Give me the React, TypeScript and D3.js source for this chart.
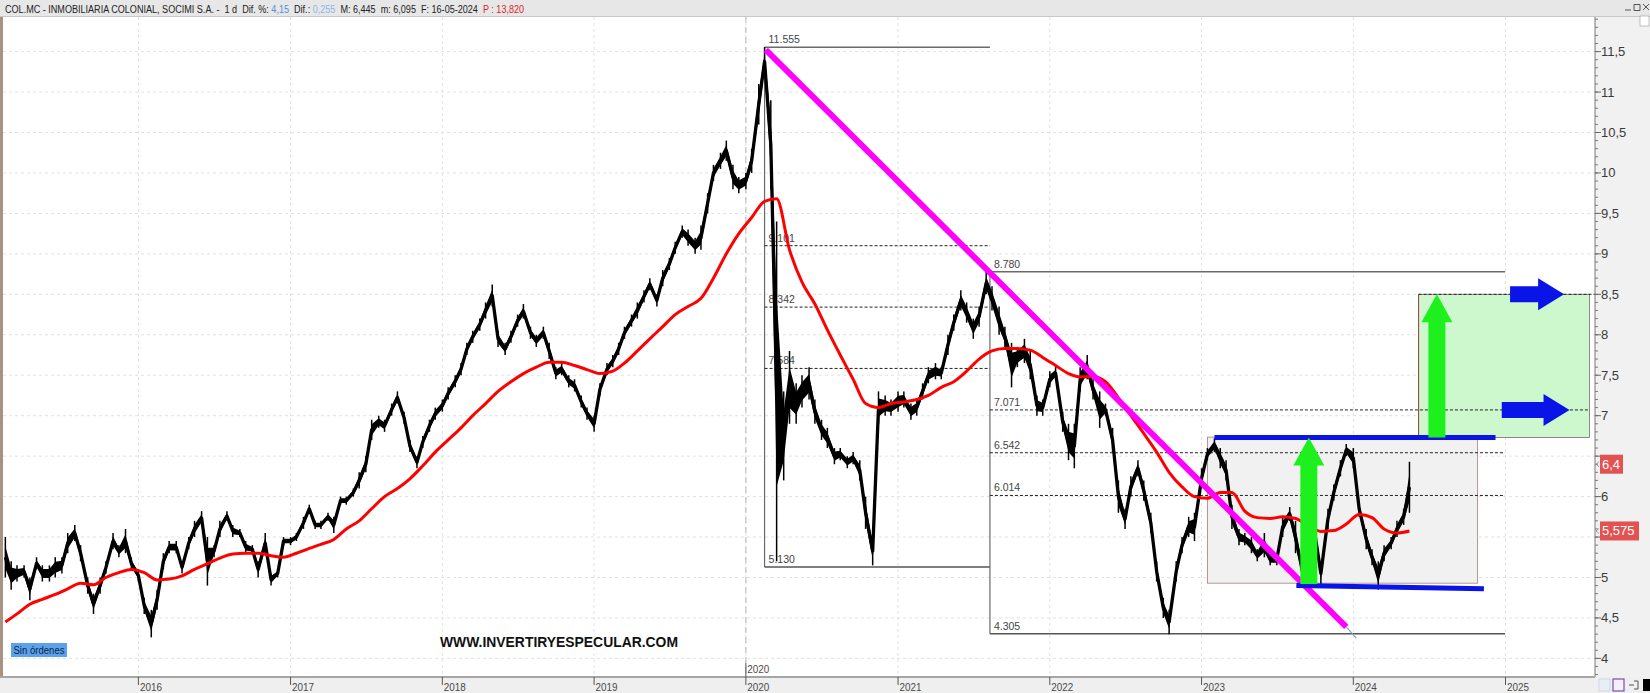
import React from "react";
import * as d3 from "d3";

const WIDTH = 1650;
const HEIGHT = 693;

// Semi-monthly price ranges (1st and 15th of each month), first point 15-Feb-2015
const priceLow: number[] = [
  5.0, 4.85, 4.95, 5.0, 4.72, 5.1, 4.95, 4.95, 5.0, 5.05, 5.3, 5.45, 5.2, 4.8, 4.55, 4.8, 5.05, 5.35, 5.25, 5.3, 5.1,
  4.95, 4.55, 4.26, 4.6, 5.1, 5.3, 5.3, 5.05, 5.35, 5.5, 5.65, 4.9, 5.25, 5.5, 5.7, 5.5, 5.5, 5.3, 5.3, 5.0, 5.3, 4.9, 5.0, 5.4,
  5.4, 5.45, 5.6, 5.8, 5.6, 5.6, 5.7, 5.55, 5.9, 5.9, 6.0, 6.1, 6.3, 6.7, 6.85, 6.8, 7.0, 7.15, 6.9, 6.55, 6.35, 6.6, 6.8, 6.95,
  7.05, 7.2, 7.35, 7.5, 7.75, 7.9, 8.05, 8.2, 8.35, 7.85, 7.75, 7.9, 8.1, 8.2, 7.95, 7.85, 7.95, 7.7, 7.45, 7.5, 7.35, 7.3, 7.1, 6.95,
  6.8, 7.25, 7.5, 7.6, 7.75, 7.95, 8.1, 8.2, 8.4, 8.55, 8.35, 8.6, 8.8, 9.0, 9.2, 9.1, 9.0, 9.05, 9.5, 9.9, 10.05, 10.15, 9.8, 9.75,
  9.8, 10.0, 10.6, 11.2, 9.8, 5.2, 6.2, 6.9, 6.9, 7.1, 7.2, 6.9, 6.7, 6.6, 6.4, 6.45, 6.35, 6.4, 6.2, 5.6, 5.15, 6.9, 7.0, 7.0,
  7.05, 7.1, 6.95, 7.0, 7.2, 7.4, 7.45, 7.45, 7.75, 8.05, 8.3, 8.15, 7.95, 8.1, 8.5, 8.3, 8.0, 7.85, 7.35, 7.6, 7.65, 7.45, 7.0,
  7.0, 7.35, 7.45, 6.8, 6.45, 6.35, 7.3, 7.45, 7.2, 6.85, 7.0, 6.55, 5.8, 5.6, 6.0, 6.25, 5.95, 5.55, 4.95, 4.5, 4.3, 4.95, 5.3,
  5.5, 5.45, 6.1, 6.45, 6.55, 6.35, 6.2, 5.6, 5.4, 5.4, 5.3, 5.2, 5.25, 5.15, 5.15, 5.5, 5.7, 5.3, 4.98, 5.1, 5.4, 4.9, 5.6, 5.95,
  6.25, 6.5, 6.35, 5.75, 5.35, 5.15, 4.85, 5.2, 5.35, 5.5, 5.65, 5.8,
];
const priceHigh: number[] = [
  5.5, 5.2, 5.15, 5.15, 5.0, 5.25, 5.15, 5.15, 5.25, 5.25, 5.55, 5.65, 5.4, 5.0, 4.8, 5.0, 5.2, 5.55, 5.4, 5.6, 5.25,
  5.1, 4.75, 4.6, 4.85, 5.3, 5.45, 5.45, 5.2, 5.5, 5.7, 5.82, 5.5, 5.4, 5.7, 5.82, 5.65, 5.6, 5.45, 5.4, 5.2, 5.55, 5.05, 5.1, 5.5,
  5.5, 5.55, 5.75, 5.9, 5.7, 5.7, 5.8, 5.75, 6.0, 6.0, 6.1, 6.3, 6.5, 6.95, 7.0, 6.95, 7.15, 7.3, 7.05, 6.7, 6.5, 6.75, 6.95, 7.1,
  7.2, 7.35, 7.5, 7.65, 7.9, 8.05, 8.2, 8.4, 8.62, 8.05, 7.9, 8.05, 8.25, 8.38, 8.1, 8.0, 8.1, 7.9, 7.6, 7.65, 7.5, 7.45, 7.25, 7.1,
  7.0, 7.4, 7.65, 7.75, 7.9, 8.1, 8.25, 8.4, 8.55, 8.7, 8.5, 8.8, 8.95, 9.15, 9.35, 9.3, 9.2, 9.35, 9.75, 10.1, 10.25, 10.4, 10.1, 9.95,
  10.0, 10.3, 11.1, 11.555, 10.9, 9.4, 7.3, 7.8, 7.4, 7.5, 7.6, 7.2, 6.95, 6.85, 6.6, 6.6, 6.5, 6.55, 6.45, 6.0, 5.5, 7.3, 7.25, 7.2,
  7.3, 7.3, 7.15, 7.2, 7.4, 7.6, 7.65, 7.6, 8.0, 8.25, 8.55, 8.4, 8.2, 8.35, 8.78, 8.6, 8.35, 8.1, 7.9, 7.85, 7.95, 7.8, 7.25,
  7.2, 7.55, 7.6, 7.05, 6.9, 6.9, 7.6, 7.75, 7.45, 7.3, 7.15, 6.85, 6.2, 5.85, 6.25, 6.45, 6.2, 5.8, 5.2, 4.75, 4.6, 5.2, 5.5,
  5.75, 5.8, 6.35, 6.6, 6.72, 6.6, 6.45, 5.9, 5.6, 5.55, 5.5, 5.35, 5.55, 5.3, 5.3, 5.75, 5.87, 5.7, 5.15, 5.3, 5.65, 5.2, 5.85, 6.15,
  6.45, 6.65, 6.6, 5.95, 5.6, 5.35, 5.2, 5.4, 5.5, 5.7, 5.85, 6.43,
];
// Moving average, one reading per month (15th), from Feb-2015 to May-2024
const maValues: number[] = [
  4.45, 4.55, 4.67, 4.73, 4.79, 4.86, 4.93, 4.91, 5.0, 5.06, 5.1,
  5.06, 4.97, 4.98, 5.02, 5.1, 5.17, 5.24, 5.29, 5.3, 5.3, 5.27, 5.25,
  5.3, 5.36, 5.41, 5.47, 5.6, 5.7, 5.85, 6.0, 6.1, 6.22, 6.38, 6.55,
  6.7, 6.85, 7.0, 7.15, 7.3, 7.42, 7.52, 7.6, 7.66, 7.66, 7.62, 7.57,
  7.52, 7.55, 7.65, 7.8, 7.95, 8.1, 8.25, 8.35, 8.45, 8.7, 9.0, 9.25,
  9.45, 9.65, 9.68, 9.05, 8.65, 8.38, 8.06, 7.75, 7.45, 7.15, 7.1, 7.15,
  7.17, 7.2, 7.25, 7.35, 7.42, 7.55, 7.7, 7.8, 7.83, 7.83, 7.81, 7.72,
  7.62, 7.52, 7.48, 7.48, 7.42, 7.22, 7.0, 6.78, 6.55, 6.3, 6.12, 6.0,
  5.98, 6.05, 6.05, 5.82, 5.74, 5.73, 5.75, 5.73, 5.64, 5.57, 5.58, 5.66,
  5.78, 5.74, 5.6, 5.55, 5.575,
];

const yTickValues = [4, 4.5, 5, 5.5, 6, 6.5, 7, 7.5, 8, 8.5, 9, 9.5, 10, 10.5, 11, 11.5];
const hiddenTickLabels = [5.5, 6.5];
const yearTicks = [2016, 2017, 2018, 2019, 2020, 2021, 2022, 2023, 2024, 2025];

const fib1Dates = ["2020-02-15", "2021-08-10"];
const fib1Bounds = [11.555, 5.13];
const fib1Levels = [9.101, 8.342, 7.584];
const fib2Dates = ["2021-08-10", "2024-12-31"];
const fib2Bounds = [8.78, 4.305];
const fib2Levels = [7.071, 6.542, 6.014];
const extendedLevelEnd = "2025-07-22";

const trendDates = ["2020-02-18", "2023-12-15", "2024-01-08"];
const trendValues = [11.52, 4.39, 4.25];

const rangeBoxDates = ["2023-01-15", "2024-10-26"];
const rangeBoxValues = [6.735, 4.93];
const upperBlueDates = ["2023-02-01", "2024-12-08"];
const upperBlueValues = [6.73, 6.73];
const lowerBlueDates = ["2023-08-17", "2024-11-10"];
const lowerBlueValues = [4.9, 4.86];
const targetBoxDates = ["2024-06-06", "2025-07-22"];
const targetBoxValues = [8.5, 6.73];
const greenArrowDates = ["2023-09-16", "2024-07-20"];
const greenArrowFrom = [4.92, 6.73];
const greenArrowTo = [6.73, 8.5];
const blueArrowStart = ["2025-01-12", "2024-12-23"];
const blueArrowTip = ["2025-05-22", "2025-06-04"];
const blueArrowValues = [8.5, 7.071];

const lastValues = [6.4, 5.575];
const headerParts = [
  { t: "COL.MC - INMOBILIARIA COLONIAL, SOCIMI S.A. -  1 d  Dif. %: ", c: "#222" },
  { t: "4,15", c: "#4f8fdc" },
  { t: "  Dif.: ", c: "#222" },
  { t: "0,255", c: "#8ab6ec" },
  { t: "  M: 6,445  m: 6,095  F: 16-05-2024  ", c: "#222" },
  { t: "P : 13,820", c: "#e02424" },
];

const parse = d3.timeParse("%Y-%m-%d");
const pd = (s: string) => parse(s) as Date;
const semiMonthDate = (i: number) => new Date(2015, 1 + Math.floor((i + 1) / 2), i % 2 === 0 ? 15 : 1);

const FONT = "'Liberation Sans', Arial, sans-serif";

export default function App() {
  const plotLeft = 3;
  const plotRight = 1595;
  const plotTop = 17;
  const plotBottom = 677;

  const headerRef = React.useRef<SVGTextElement>(null);
  const [hScale, setHScale] = React.useState(0.78);
  React.useLayoutEffect(() => {
    const el = headerRef.current;
    if (el) {
      const len = el.getComputedTextLength();
      if (len > 0) setHScale(519 / len);
    }
  }, []);

  const x = d3.scaleTime().domain([new Date(2016, 0, 1), new Date(2025, 0, 1)]).range([138.4, 1505.5]);
  const y = d3.scaleLinear().domain([4, 11.5]).range([658.4, 51.6]);

  const idx = priceLow.map((_, i) => i);
  const midLine = d3
    .line<number>()
    .x((i) => x(semiMonthDate(i)))
    .y((i) => y((priceLow[i] + priceHigh[i]) / 2))(idx) as string;
  const priceArea = d3
    .area<number>()
    .x((i) => x(semiMonthDate(i)))
    .y0((i) => y(priceLow[i] + (priceHigh[i] - priceLow[i]) * 0.22))
    .y1((i) => y(priceHigh[i] - (priceHigh[i] - priceLow[i]) * 0.22))(idx) as string;

  const maLine = d3
    .line<number>()
    .x((_, k) => x(semiMonthDate(k * 2)))
    .y((v) => y(v))
    .curve(d3.curveMonotoneX)(maValues) as string;

  const minorTicks = d3.range(38, 120).map((v) => v / 10);

  const fibBlock = (dates: string[], bounds: number[], levels: number[], key: string, extend: boolean[]) => {
    const x0 = x(pd(dates[0]));
    const x1 = x(pd(dates[1]));
    const xe = x(pd(extendedLevelEnd));
    const fmt = (v: number) => v.toFixed(3);
    return (
      <g key={key}>
        <line x1={x0} x2={x0} y1={y(bounds[0])} y2={y(bounds[1])} stroke="#6a6a6a" strokeWidth={1.2} />
        <line x1={x0} x2={x1} y1={y(bounds[0])} y2={y(bounds[0])} stroke="#6a6a6a" strokeWidth={1.5} />
        <line x1={x0} x2={x1} y1={y(bounds[1])} y2={y(bounds[1])} stroke="#555" strokeWidth={1.5} />
        {levels.map((lv, k) => (
          <line key={k} x1={x0} x2={extend[k] ? xe : x1} y1={y(lv)} y2={y(lv)} stroke="#222" strokeWidth={1} strokeDasharray="3,2" />
        ))}
        {[bounds[0], ...levels, bounds[1]].map((lv, k) => (
          <text key={"t" + k} x={x0 + 4} y={y(lv) - 4} fontSize={10.5} fill="#444" fontFamily={FONT}>
            {fmt(lv)}
          </text>
        ))}
      </g>
    );
  };

  const greenArrow = (k: number) => {
    const cx = x(pd(greenArrowDates[k]));
    const yb = y(greenArrowFrom[k]);
    const yt = y(greenArrowTo[k]);
    const sw = 8.5;
    const hw = 15.5;
    const hh = 28;
    const pts = [
      [cx - sw, yb], [cx - sw, yt + hh], [cx - hw, yt + hh], [cx, yt],
      [cx + hw, yt + hh], [cx + sw, yt + hh], [cx + sw, yb],
    ];
    return <polygon key={"g" + k} points={pts.map((p) => p.join(",")).join(" ")} fill="#1ef01e" />;
  };

  const blueArrow = (k: number) => {
    const xs = x(pd(blueArrowStart[k]));
    const xt = x(pd(blueArrowTip[k]));
    const cy = y(blueArrowValues[k]);
    const sh = 8;
    const hh = 16;
    const hl = 26;
    const pts = [
      [xs, cy - sh], [xt - hl, cy - sh], [xt - hl, cy - hh], [xt, cy],
      [xt - hl, cy + hh], [xt - hl, cy + sh], [xs, cy + sh],
    ];
    return <polygon key={"b" + k} points={pts.map((p) => p.join(",")).join(" ")} fill="#0a14e6" />;
  };

  const tb0 = x(pd(targetBoxDates[0]));
  const tb1 = x(pd(targetBoxDates[1]));
  const rb0 = x(pd(rangeBoxDates[0]));
  const rb1 = x(pd(rangeBoxDates[1]));

  return (
    <svg
      width={WIDTH}
      height={HEIGHT}
      style={{ position: "absolute", left: 0, top: 0, background: "#fff" }}
      fontFamily={FONT}
    >
      <defs>
        <clipPath id="plotClip">
          <rect x={plotLeft} y={plotTop} width={plotRight - plotLeft} height={plotBottom - plotTop} />
        </clipPath>
      </defs>
      <rect x={0} y={0} width={WIDTH} height={HEIGHT} fill="#fff" />
      <rect x={plotRight} y={plotTop} width={WIDTH - plotRight} height={HEIGHT - plotTop} fill="#f1f1f1" />
      <rect x={0} y={plotBottom} width={WIDTH} height={HEIGHT - plotBottom} fill="#efefef" />
      <rect x={0} y={plotTop} width={3} height={plotBottom - plotTop} fill="#a89282" />

      <g clipPath="url(#plotClip)">
        {yTickValues.map((v) => (
          <line key={"gy" + v} x1={plotLeft} x2={plotRight} y1={y(v)} y2={y(v)} stroke="#e2e2e2" strokeDasharray="3,3" />
        ))}
        {yearTicks.map((yr) => (
          <line key={"gx" + yr} x1={x(new Date(yr, 0, 1))} x2={x(new Date(yr, 0, 1))} y1={plotTop} y2={plotBottom} stroke="#e2e2e2" strokeDasharray="3,3" />
        ))}
        <line x1={x(new Date(2020, 0, 1))} x2={x(new Date(2020, 0, 1))} y1={plotTop} y2={plotBottom} stroke="#b8b8b8" strokeDasharray="6,4" />

        <rect x={rb0} y={y(rangeBoxValues[0])} width={rb1 - rb0} height={y(rangeBoxValues[1]) - y(rangeBoxValues[0])} fill="#f1f1f1" stroke="#a97a7a" strokeWidth={0.8} />
        <rect x={tb0} y={y(targetBoxValues[0])} width={tb1 - tb0} height={y(targetBoxValues[1]) - y(targetBoxValues[0])} fill="#cdf7cd" stroke="#7a6a6a" strokeWidth={0.8} />
        <line x1={tb0} x2={plotRight} y1={y(targetBoxValues[0])} y2={y(targetBoxValues[0])} stroke="#222" strokeDasharray="3,2" />
        <line x1={tb0} x2={tb0} y1={y(targetBoxValues[0])} y2={y(targetBoxValues[1])} stroke="#a0483c" strokeWidth={1} />

        {fibBlock(fib1Dates, fib1Bounds, fib1Levels, "f1", [false, false, false])}
        {fibBlock(fib2Dates, fib2Bounds, fib2Levels, "f2", [true, false, false])}

        {/* price: high-low bars plus a band through the bars */}
        <g stroke="#000" strokeWidth={1.5}>
          {idx.map((i) => (
            <line key={"hl" + i} x1={x(semiMonthDate(i))} x2={x(semiMonthDate(i))} y1={y(priceLow[i])} y2={y(priceHigh[i])} />
          ))}
        </g>
        <path d={priceArea} fill="#000" stroke="none" />
        <path d={midLine} fill="none" stroke="#000" strokeWidth={3.3} strokeLinejoin="round" />

        <path d={maLine} fill="none" stroke="#f00" strokeWidth={3} />

        <line x1={x(pd(trendDates[1]))} y1={y(trendValues[1])} x2={x(pd(trendDates[2]))} y2={y(trendValues[2])} stroke="#7aa6d8" strokeWidth={1.2} />
        <line x1={x(pd(trendDates[0]))} y1={y(trendValues[0])} x2={x(pd(trendDates[1]))} y2={y(trendValues[1])} stroke="#ff00ff" strokeWidth={6} />

        <line x1={x(pd(upperBlueDates[0]))} y1={y(upperBlueValues[0])} x2={x(pd(upperBlueDates[1]))} y2={y(upperBlueValues[1])} stroke="#0a14e6" strokeWidth={5} />
        <line x1={x(pd(lowerBlueDates[0]))} y1={y(lowerBlueValues[0])} x2={x(pd(lowerBlueDates[1]))} y2={y(lowerBlueValues[1])} stroke="#0a14e6" strokeWidth={5} />

        {greenArrow(0)}
        {greenArrow(1)}
        {blueArrow(0)}
        {blueArrow(1)}

        <text x={440} y={647} fontSize={14.5} fontWeight="bold" fill="#111" textLength={238} lengthAdjust="spacingAndGlyphs">
          WWW.INVERTIRYESPECULAR.COM
        </text>
        <rect x={11} y={643} width={56} height={14} fill="#5aa2ea" />
        <text x={13.5} y={654} fontSize={10} fill="#10244a" textLength={51} lengthAdjust="spacingAndGlyphs">
          Sin órdenes
        </text>
      </g>

      {/* y axis */}
      <line x1={plotRight} x2={plotRight} y1={plotTop} y2={plotBottom} stroke="#7a7a7a" />
      {minorTicks.map((v) => (
        <line key={"mt" + v} x1={plotRight} x2={plotRight + 3} y1={y(v)} y2={y(v)} stroke="#7a7a7a" />
      ))}
      {yTickValues.map((v) => (
        <g key={"yt" + v}>
          <line x1={plotRight} x2={plotRight + 6} y1={y(v)} y2={y(v)} stroke="#6a6a6a" />
          {hiddenTickLabels.includes(v) ? null : (
            <text x={1601} y={y(v) + 4.5} fontSize={13} fill="#3a3a3a">
              {String(v).replace(".", ",")}
            </text>
          )}
        </g>
      ))}
      {lastValues.map((v, k) => {
        const label = String(v).replace(".", ",");
        const w = k === 0 ? 23 : 39;
        const yy = y(v);
        return (
          <g key={"lbl" + k}>
            <path d={`M${plotRight + 4},${yy - 2.5} L${plotRight + 1},${yy} L${plotRight + 4},${yy + 2.5}`} fill="none" stroke="#888" strokeWidth={0.8} />
            <rect x={1600} y={yy - 9.5} width={w} height={19} fill="#e35252" />
            <text x={1602} y={yy + 4.5} fontSize={13} fill="#fff">
              {label}
            </text>
          </g>
        );
      })}

      {/* x axis */}
      <line x1={0} x2={plotRight} y1={plotBottom} y2={plotBottom} stroke="#a5a5a5" strokeWidth={2} />
      {yearTicks.map((yr) => {
        const xx = x(new Date(yr, 0, 1));
        return (
          <g key={"xt" + yr}>
            <line x1={xx} x2={xx} y1={plotBottom} y2={plotBottom + 8} stroke="#555" />
            <text x={xx + 1.5} y={691} fontSize={11.5} fill="#4a4a4a" textLength={22} lengthAdjust="spacingAndGlyphs">
              {yr}
            </text>
          </g>
        );
      })}
      <line x1={x(new Date(2020, 0, 1))} x2={x(new Date(2020, 0, 1))} y1={663} y2={plotBottom} stroke="#555" />
      <text x={x(new Date(2020, 0, 1)) + 1.5} y={673} fontSize={11.5} fill="#4a4a4a" textLength={22} lengthAdjust="spacingAndGlyphs">
        2020
      </text>

      {/* bottom right icons */}
      <rect x={1599} y={679} width={11} height={12} fill="#e8eef8" stroke="#b8c8e0" strokeWidth={0.6} />
      <rect x={1613} y={679} width={11} height={12} fill="#f4f0fa" stroke="#7b4bb8" strokeWidth={1.2} />
      <path d="M1629,685 L1634,685 M1634,681 L1638,681 L1638,689 L1634,689" fill="none" stroke="#555" strokeWidth={1} />
      <rect x={1643} y={679} width={7} height={12} fill="#000" />

      {/* header */}
      <rect x={0} y={0} width={WIDTH} height={plotTop} fill="#e7e7e7" />
      <line x1={0} x2={WIDTH} y1={plotTop - 0.5} y2={plotTop - 0.5} stroke="#c8c8c8" />
      <text
        ref={headerRef}
        transform={`translate(5,12.5) scale(${hScale},1)`}
        fontSize={11.5}
        style={{ whiteSpace: "pre" }}
      >
        {headerParts.map((p, k) => (
          <tspan key={k} fill={p.c}>
            {p.t}
          </tspan>
        ))}
      </text>
      <path d="M1625,10 L1631,10 M1634,4.5 h6 v6 h-6 z M1643,4 L1649,10 M1649,4 L1643,10" fill="none" stroke="#444" strokeWidth={0.9} />
      <rect x={1640} y={16} width={9} height={10} fill="#fff" stroke="#999" strokeWidth={0.6} />
    </svg>
  );
}
